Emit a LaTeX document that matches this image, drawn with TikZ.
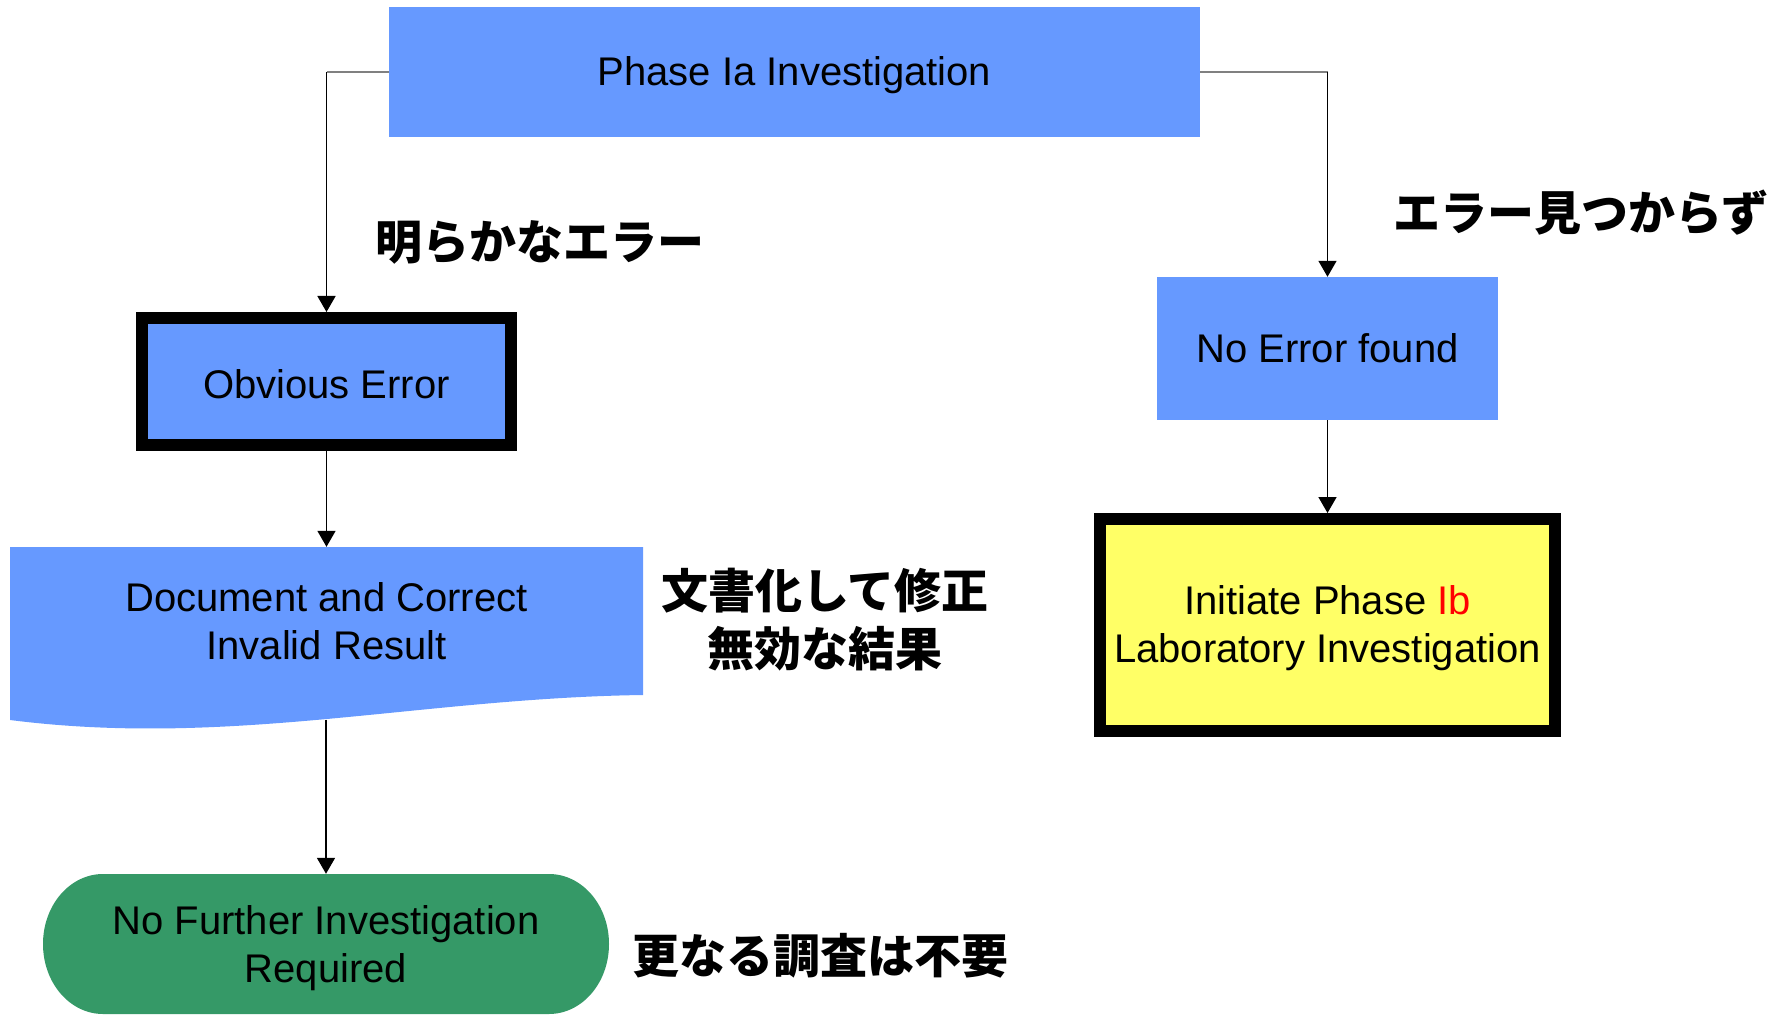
\documentclass[tikz,border=0pt]{standalone}
\usepackage{fontspec}
\setmainfont{Liberation Sans}
\newfontfamily\cjk{Noto Sans CJK JP}
\usetikzlibrary{arrows.meta}

\definecolor{boxblue}{HTML}{6699FF}
\definecolor{boxyellow}{HTML}{FFFF66}
\definecolor{boxgreen}{HTML}{359967}
\definecolor{linkgray}{HTML}{808080}

\newcommand{\boxfont}{\fontsize{40}{48}\selectfont}
\newcommand{\jpfont}{\cjk\bfseries\fontsize{47}{58}\selectfont}
% invisible strut that lowers a text block inside its box
\newcommand{\lowerby}[1]{\rule{0pt}{#1}}

\begin{document}
\begin{tikzpicture}[
  x=1pt, y=-1pt,
  flowbox/.style={fill=boxblue, inner sep=0pt, align=center, font=\boxfont},
  heavyframe/.style={draw=black, line width=12pt},
  textonly/.style={inner sep=0pt, align=center, font=\boxfont},
  conn/.style={-{Triangle[length=16pt,width=18pt]}, line width=1.6pt, black},
  feed/.style={line width=2pt, linkgray},
  jplabel/.style={inner sep=0pt, align=center, font=\jpfont}
]
\useasboundingbox (0,0) rectangle (1780,1016);

% document shape (wavy bottom)
\fill[boxblue] (10,547) -- (643,547) -- (643,695)
  .. controls (420,698) and (230,748) .. (10,720) -- cycle;

% terminator shape
\fill[boxgreen] (103,874) -- (549,874)
  .. controls (582,874) and (609,905) .. (609,944)
  .. controls (609,983) and (582,1014) .. (549,1014)
  -- (103,1014)
  .. controls (70,1014) and (43,983) .. (43,944)
  .. controls (43,905) and (70,874) .. (103,874) -- cycle;

% nodes
\node[flowbox, minimum width=811pt, minimum height=130pt] (phase) at (794.5,72)
  {\lowerby{35pt}Phase Ia Investigation};
\node[flowbox, heavyframe, minimum width=369pt, minimum height=127pt] (obv) at (326.5,381.5)
  {\lowerby{34pt}Obvious Error};
\node[flowbox, minimum width=341pt, minimum height=143pt] (noerr) at (1327.5,348.5)
  {No Error found};
\node[flowbox, heavyframe, fill=boxyellow, minimum width=455pt, minimum height=212pt] (phaseib) at (1327.5,625)
  {\lowerby{36pt}Initiate Phase \textcolor{red}{Ib}\\Laboratory Investigation};
\node[textonly, minimum width=633pt, minimum height=148pt] (doc) at (326.5,621)
  {Document and Correct\\Invalid Result};
\node[textonly, minimum width=566pt, minimum height=140pt] (nfi) at (326,944)
  {\lowerby{38pt}No Further Investigation\\Required};
\coordinate (docwave) at (326,720);

% connectors
\coordinate (lcorner) at (phase.west -| obv.north);
\coordinate (rcorner) at (phase.east -| noerr.north);
\draw[feed] (phase.west) -- (lcorner);
\draw[conn] (lcorner) -- (obv.north);
\draw[feed] (phase.east) -- (rcorner);
\draw[conn] (rcorner) -- (noerr.north);
\draw[conn] (obv.south) -- (doc.north);
\draw[conn] (docwave) -- (nfi.north);
\draw[conn] (noerr.south) -- (phaseib.north);

% Japanese labels
\node[jplabel, anchor=west] (lblobv) at (375,242) {明らかなエラー};
\node[jplabel, anchor=west] (lblnoerr) at (1393,213) {エラー見つからず};
\node[jplabel] (lbldoc) at (825,620) {文書化して修正\\無効な結果};
\node[jplabel, anchor=west] (lblnfi) at (632,956) {更なる調査は不要};
\end{tikzpicture}
\end{document}
